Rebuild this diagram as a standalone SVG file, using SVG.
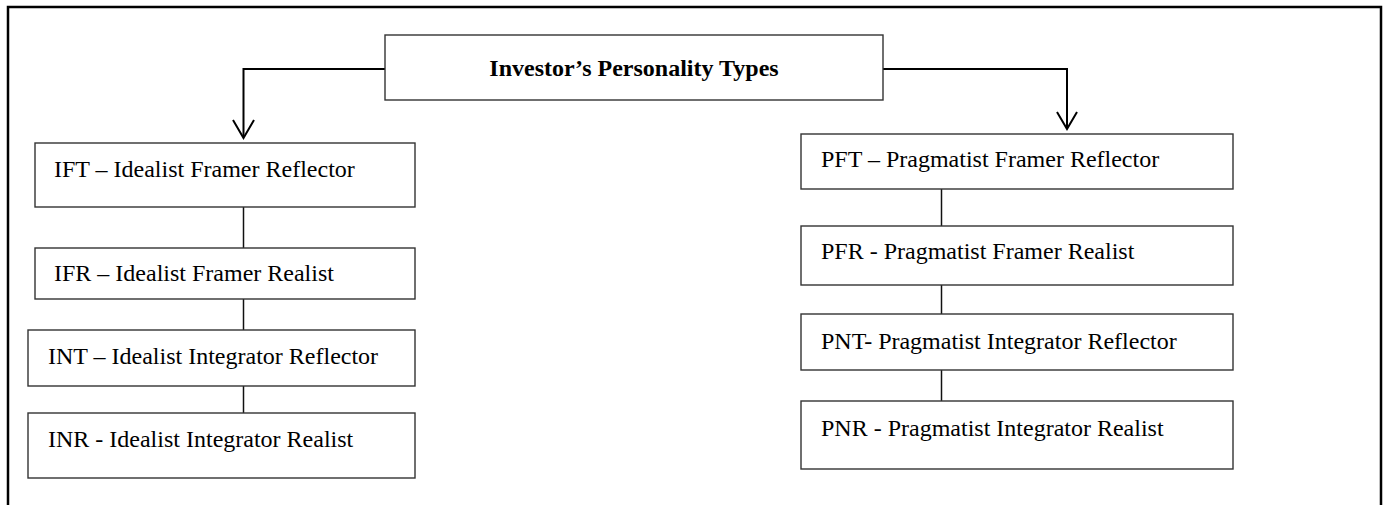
<svg xmlns="http://www.w3.org/2000/svg" width="1384" height="505" viewBox="0 0 1384 505">
<style>
.box{fill:#fff;stroke:#333;stroke-width:1.4}
.lbl{font-family:"Liberation Serif","Times New Roman",serif;font-size:24px;fill:#000}
.title{font-weight:bold}
.con{fill:none;stroke:#000;stroke-width:2}
.link{fill:none;stroke:#111;stroke-width:1.5}
</style>
<rect width="1384" height="505" fill="#fff"/>
<path d="M8,506 V7 H1381 V506" fill="none" stroke="#000" stroke-width="2.5"/>
<g id="connectors">
<path class="con" d="M385,69 H243.5 V137"/>
<path class="con" d="M233,120 L243.5,138 L254,120"/>
<path class="con" d="M883,69 H1067 V128"/>
<path class="con" d="M1057,112 L1067,129 L1077,112"/>
<path class="link" d="M243.5,207 V248"/>
<path class="link" d="M243.5,299 V330"/>
<path class="link" d="M243.5,386 V413"/>
<path class="link" d="M941.5,189 V226"/>
<path class="link" d="M941.5,285 V314"/>
<path class="link" d="M941.5,370 V401"/>
</g>
<g id="title">
<rect class="box" x="385" y="35" width="498" height="65"/>
<text class="lbl title" x="634" y="76" text-anchor="middle">Investor’s Personality Types</text>
</g>
<g id="ift">
<rect class="box" x="35" y="143" width="380" height="64"/>
<text class="lbl" x="54" y="177">IFT – Idealist Framer Reflector</text>
</g>
<g id="ifr">
<rect class="box" x="35" y="248" width="380" height="51"/>
<text class="lbl" x="54" y="281">IFR – Idealist Framer Realist</text>
</g>
<g id="int">
<rect class="box" x="28" y="330" width="387" height="56"/>
<text class="lbl" x="48" y="364">INT – Idealist Integrator Reflector</text>
</g>
<g id="inr">
<rect class="box" x="28" y="413" width="387" height="65"/>
<text class="lbl" x="48" y="447">INR - Idealist Integrator Realist</text>
</g>
<g id="pft">
<rect class="box" x="801" y="134" width="432" height="55"/>
<text class="lbl" x="821" y="167">PFT – Pragmatist Framer Reflector</text>
</g>
<g id="pfr">
<rect class="box" x="801" y="226" width="432" height="59"/>
<text class="lbl" x="821" y="259">PFR - Pragmatist Framer Realist</text>
</g>
<g id="pnt">
<rect class="box" x="801" y="314" width="432" height="56"/>
<text class="lbl" x="821" y="349">PNT- Pragmatist Integrator Reflector</text>
</g>
<g id="pnr">
<rect class="box" x="801" y="401" width="432" height="68"/>
<text class="lbl" x="821" y="436">PNR - Pragmatist Integrator Realist</text>
</g>
</svg>
